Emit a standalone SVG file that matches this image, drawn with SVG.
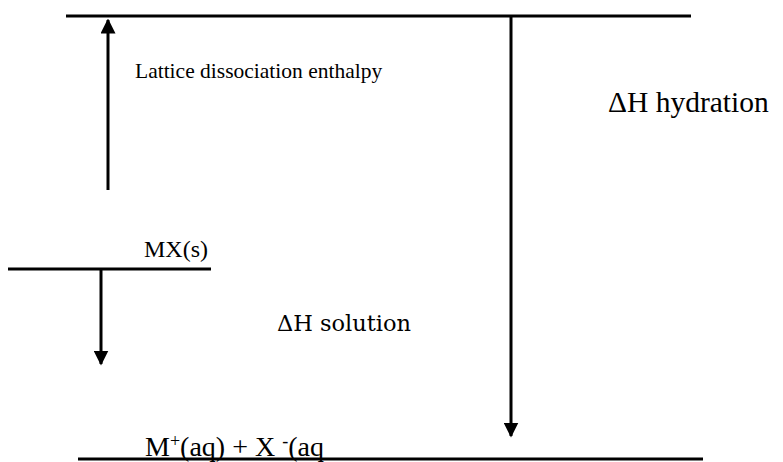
<svg xmlns="http://www.w3.org/2000/svg" width="783" height="462" viewBox="0 0 783 462">
<style>
.lvl{stroke:#000;stroke-width:3;fill:none}
.arr{stroke:#000;stroke-width:3;fill:none}
.t{font-family:"Liberation Serif","Times New Roman",serif;fill:#000}
.c{font-family:"DejaVu Serif","Liberation Serif",serif;fill:#000}
</style>
<defs>
<marker id="ah" markerWidth="5" markerHeight="5" refX="4.5" refY="2.5" orient="auto" markerUnits="strokeWidth">
<path d="M0,0 L5,2.5 L0,5 Z" fill="#000"/>
</marker>
</defs>
<g id="level-top"><line class="lvl" x1="66" y1="16" x2="691" y2="16"/></g>
<g id="level-mx"><line class="lvl" x1="8" y1="269" x2="211" y2="269"/><text class="t" x="144" y="257" font-size="24">MX(s)</text></g>
<g id="level-aq"><text class="t" x="145" y="456" font-size="28">M<tspan font-size="18" dy="-9">+</tspan><tspan dy="9">(aq) + X </tspan><tspan font-size="18" dy="-9">-</tspan><tspan dy="9">(aq</tspan></text><line class="lvl" x1="78" y1="459" x2="703" y2="459"/></g>
<g id="connectors">
<line class="arr" x1="108" y1="190" x2="108" y2="20" marker-end="url(#ah)"/>
<line class="arr" x1="101" y1="269" x2="101" y2="364" marker-end="url(#ah)"/>
<line class="arr" x1="511" y1="16" x2="511" y2="436" marker-end="url(#ah)"/>
</g>
<g id="labels">
<text class="t" x="135" y="78" font-size="21.5">Lattice dissociation enthalpy</text>
<text class="t" x="608" y="112" font-size="29.5">ΔH hydration</text>
<text class="c" x="277" y="331" font-size="22.5">ΔH solution</text>
</g>
</svg>
